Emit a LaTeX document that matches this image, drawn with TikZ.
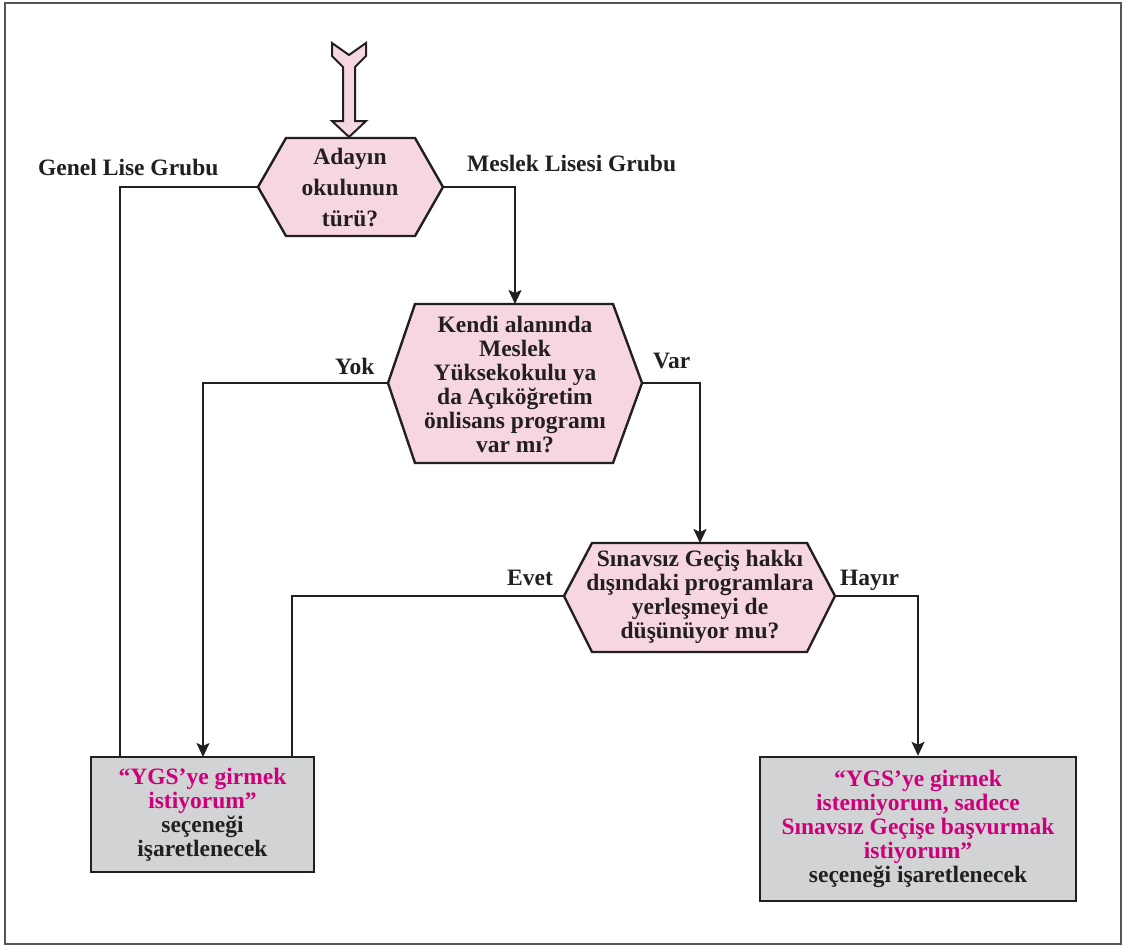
\documentclass[tikz,border=0pt]{standalone}
\usepackage{fontspec}
\setmainfont{Liberation Serif}
\usetikzlibrary{arrows.meta}
\definecolor{ink}{RGB}{35,31,32}
\definecolor{pinkfill}{RGB}{247,214,228}
\definecolor{boxgray}{RGB}{209,211,212}
\definecolor{mag}{RGB}{204,0,122}
\definecolor{framegray}{RGB}{85,85,85}
\begin{document}
\begin{tikzpicture}[x=1pt,y=-1pt, line join=miter,
  hexa/.style={draw=ink, fill=pinkfill, line width=2.4pt},
  boxa/.style={draw=ink, fill=boxgray, line width=2.4pt, inner sep=0pt, align=center,
    text=ink, font=\bfseries\fontsize{23.5}{24}\selectfont},
  txt/.style={align=center, text=ink, font=\bfseries\fontsize{23.5}{24}\selectfont, inner sep=0pt},
  lab/.style={text=ink, font=\bfseries\fontsize{23.5}{24}\selectfont, inner sep=0pt, anchor=base west},
  conn/.style={draw=ink, line width=2pt},
  arr/.style={conn, -{Stealth[length=14pt,width=13pt,inset=3pt]}}
]
\useasboundingbox (0,0) rectangle (1124,946);
\fill[white] (0,0) rectangle (1124,946);
\draw[framegray, line width=1.5pt] (5,3) rectangle (1121,944);

% coordinates
\coordinate (h1l) at (258,187); \coordinate (h1r) at (443,187);
\coordinate (h2l) at (388,383); \coordinate (h2r) at (642,383); \coordinate (h2t) at (515,304);
\coordinate (h3l) at (564,596); \coordinate (h3r) at (835,596); \coordinate (h3t) at (700,543);
\coordinate (g1) at (120,757); \coordinate (y1) at (203,757); \coordinate (e1) at (292,757);

% entry arrow
\draw[hexa, line width=2pt] (332,43) -- (349,55) -- (366,43) -- (366,56) -- (355,67) -- (355,121)
  -- (366,121) -- (349,137) -- (332,121) -- (343,121) -- (343,67) -- (332,56) -- cycle;

% hexagons
\draw[hexa] (h1l) -- (286,138) -- (415,138) -- (h1r) -- (415,236) -- (286,236) -- cycle;
\node[txt, font=\bfseries\fontsize{23.5}{31}\selectfont] (h1) at (350,188) {Adayın\\okulunun\\türü?};

\draw[hexa] (h2l) -- (415,304) -- (613,304) -- (h2r) -- (613,463) -- (415,463) -- cycle;
\node[txt] (h2) at (515,385) {Kendi alanında\\Meslek\\Yüksekokulu ya\\da Açıköğretim\\önlisans programı\\var mı?};

\draw[hexa] (h3l) -- (592,543) -- (807,543) -- (h3r) -- (807,652) -- (592,652) -- cycle;
\node[txt] (h3) at (700,597) {Sınavsız Geçiş hakkı\\dışındaki programlara\\yerleşmeyi de\\düşünüyor mu?};

% boxes
\node[boxa, minimum width=223pt, minimum height=115pt] (b1) at (202.5,814.5)
  {\textcolor{mag}{“YGS’ye girmek}\\\textcolor{mag}{istiyorum”}\\seçeneği\\işaretlenecek};
\node[boxa, minimum width=316pt, minimum height=144pt] (b2) at (918,829)
  {\textcolor{mag}{“YGS’ye girmek}\\\textcolor{mag}{istemiyorum, sadece}\\\textcolor{mag}{Sınavsız Geçişe başvurmak}\\\textcolor{mag}{istiyorum”}\\seçeneği işaretlenecek};

% connectors
\draw[conn] (h1l) -| (g1);
\draw[arr] (h1r) -| (h2t);
\draw[arr] (h2l) -| (y1);
\draw[arr] (h2r) -| (h3t);
\draw[conn] (h3l) -| (e1);
\draw[arr] (h3r) -| (b2.north);

% labels
\node[lab] (lg) at (38,175) {Genel Lise Grubu};
\node[lab] (lm) at (467,171) {Meslek Lisesi Grubu};
\node[lab] (ly) at (335,374) {Yok};
\node[lab] (lv) at (653,368) {Var};
\node[lab] (le) at (507,585) {Evet};
\node[lab] (lh) at (840,585) {Hayır};
\end{tikzpicture}
\end{document}
